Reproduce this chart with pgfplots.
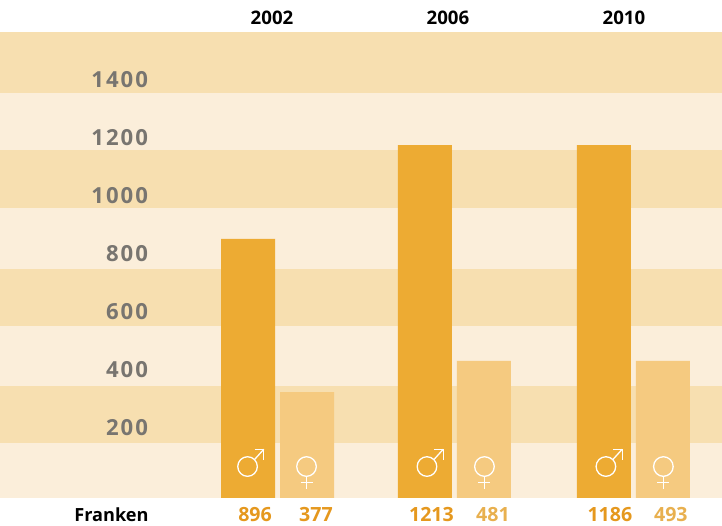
\documentclass[border=0pt]{standalone}
\usepackage{pgfplots}
\usepackage{fontspec}
\pgfplotsset{compat=1.18}
\setmainfont{Open Sans}[BoldFont={Open Sans Bold}]
\newfontfamily\tickfont{Open Sans}[BoldFont={Open Sans Bold},LetterSpace=9]
\definecolor{banddark}{HTML}{F7DFB0}
\definecolor{bandlight}{HTML}{FBEEDA}
\definecolor{barm}{HTML}{EDAB33}
\definecolor{barf}{HTML}{F5CA80}
\definecolor{tickgray}{HTML}{787570}
\definecolor{valm}{HTML}{E5981E}
\definecolor{valf}{HTML}{E8B04F}
\newcommand{\malesym}[1]{\begin{scope}[shift={(axis cs:#1,0)},x=0.75pt,y=0.75pt,draw=white,line width=1.3pt*0.75]
\draw (0,31.3) circle[radius=7.35pt];
\draw (7,38.3) -- (16.3,48.6);
\draw (7,48.6) -- (16.3,48.6) -- (16.3,38);
\end{scope}}
\newcommand{\femalesym}[1]{\begin{scope}[shift={(axis cs:#1,0)},x=0.75pt,y=0.75pt,draw=white,line width=1.3pt*0.75]
\draw (0,31.3) circle[radius=7.35pt];
\draw (0,21.5) -- (0,8.5);
\draw (-6,15.3) -- (6,15.3);
\end{scope}}
\begin{document}
\begin{tikzpicture}
\begin{axis}[
  scale only axis, width=541.5pt, height=394.5pt,
  xmin=0, xmax=722, ymin=-96.55, ymax=1717.24,
  axis line style={draw=none},
  axis on top,
  major tick length=0pt,
  xtick=\empty,
  ytick={200,400,600,800,1000,1200,1400},
  /pgf/number format/assume math mode=true,
  /pgf/number format/1000 sep={},
  yticklabel style={font=\tickfont\bfseries\fontsize{16.6pt}{18pt}\selectfont, text=tickgray,
    anchor=east, inner sep=0pt, outer sep=0pt, xshift=110.9pt, yshift=9.2pt},
  bar shift=0pt,
]
% background bands
\addplot[fill=banddark,draw=none] coordinates {(0,1606.9)(722,1606.9)(722,1396.6)(0,1396.6)};
\addplot[fill=bandlight,draw=none] coordinates {(0,1396.6)(722,1396.6)(722,1200)(0,1200)};
\addplot[fill=banddark,draw=none] coordinates {(0,1200)(722,1200)(722,1000)(0,1000)};
\addplot[fill=bandlight,draw=none] coordinates {(0,1000)(722,1000)(722,789.7)(0,789.7)};
\addplot[fill=banddark,draw=none] coordinates {(0,789.7)(722,789.7)(722,593.1)(0,593.1)};
\addplot[fill=bandlight,draw=none] coordinates {(0,593.1)(722,593.1)(722,386.2)(0,386.2)};
\addplot[fill=banddark,draw=none] coordinates {(0,386.2)(722,386.2)(722,189.7)(0,189.7)};
\addplot[fill=bandlight,draw=none] coordinates {(0,189.7)(722,189.7)(722,0)(0,0)};
% bars
\addplot[ybar, bar width=54, fill=barm, draw=none] coordinates {(248,893)(425,1217)(604,1217)};
\addplot[ybar, bar width=54, fill=barf, draw=none] coordinates {(307,365)(484,472)(663,472)};
% symbols
\malesym{247.5}\malesym{427}\malesym{606}
\femalesym{306.5}\femalesym{484.5}\femalesym{663.5}
% texts
\begin{scope}[every node/.style={font=\bfseries\fontsize{14pt}{16pt}\selectfont, inner sep=0pt, outer sep=0pt}]
\node at (axis cs:272,1655) {2002};
\node at (axis cs:448,1655) {2006};
\node at (axis cs:624,1655) {2010};
\node[anchor=east,font=\bfseries\fontsize{13.6pt}{16pt}\selectfont] at (axis cs:148.5,-58.6) {Franken};
\begin{scope}[every node/.append style={font=\bfseries\fontsize{14.7pt}{16pt}\selectfont}]
\node[text=valm] at (axis cs:255,-58.6) {896};
\node[text=valm] at (axis cs:316,-58.6) {377};
\node[text=valm] at (axis cs:431.5,-58.6) {1213};
\node[text=valf] at (axis cs:493,-58.6) {481};
\node[text=valm] at (axis cs:610,-58.6) {1186};
\node[text=valf] at (axis cs:671,-58.6) {493};
\end{scope}
\end{scope}
\end{axis}
\end{tikzpicture}
\end{document}
